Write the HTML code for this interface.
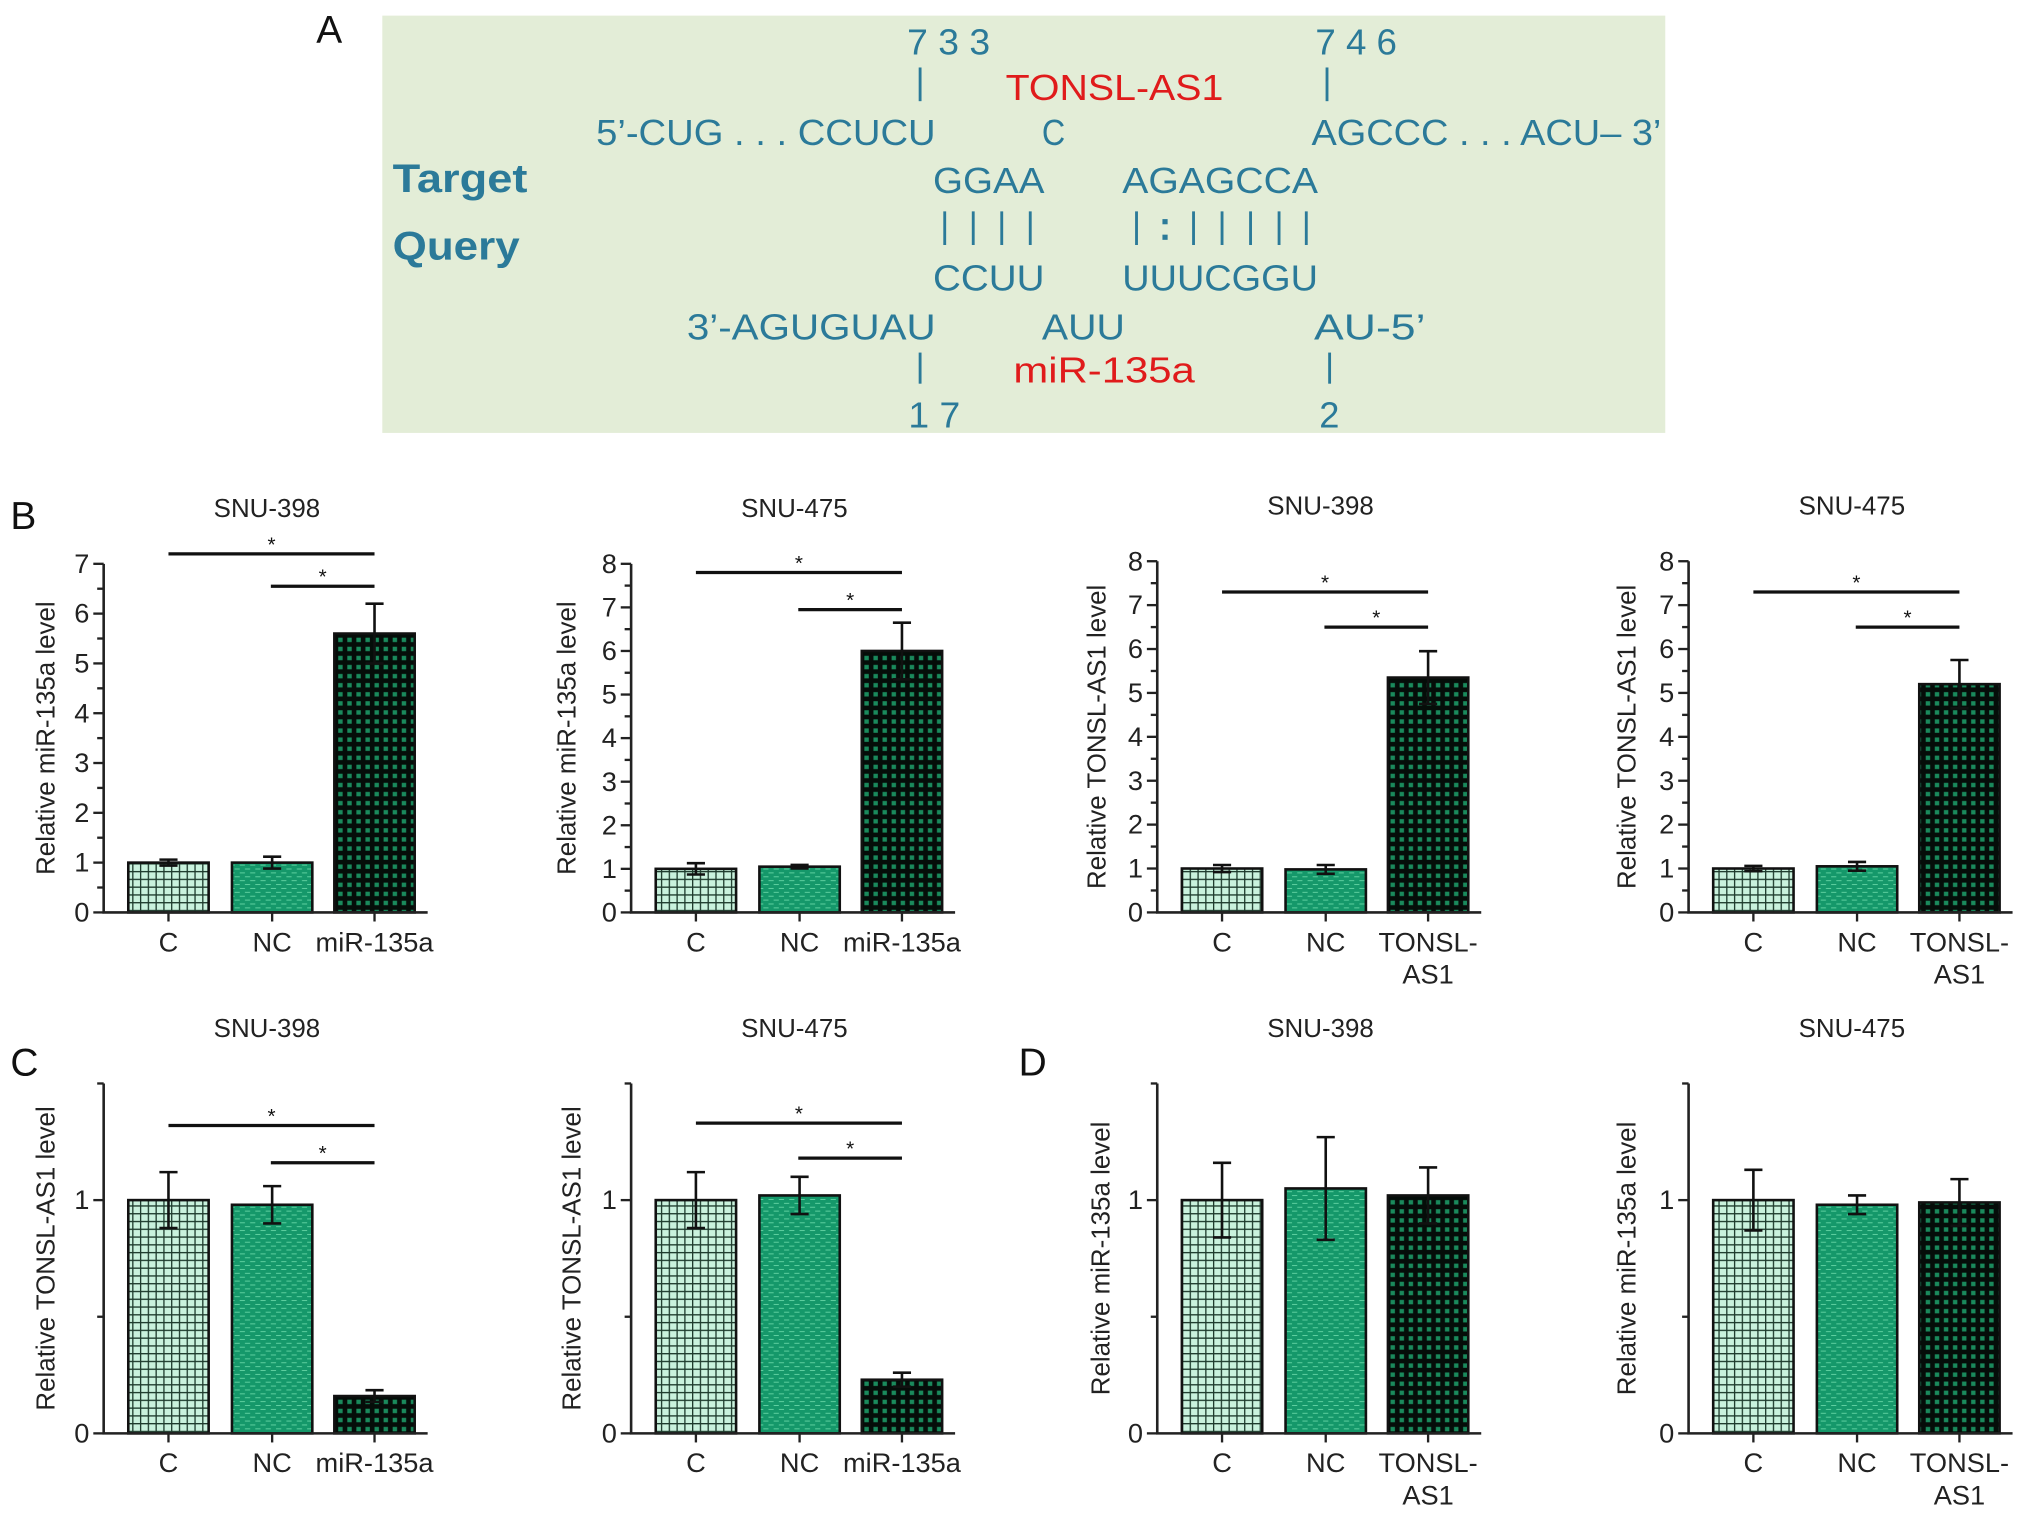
<!DOCTYPE html>
<html><head><meta charset="utf-8"><style>
html,body{margin:0;padding:0;background:#fff}
svg{display:block}
text{font-family:"Liberation Sans",Arial,sans-serif}
</style></head><body>
<svg id="fig" width="2032" height="1519" viewBox="0 0 1568 1172" xmlns="http://www.w3.org/2000/svg">
<defs>
<pattern id="pC" patternUnits="userSpaceOnUse" width="6" height="6"><rect width="6" height="6" fill="#c9f2dd"/><path d="M0 0.5H6M0.5 0V6" stroke="#1d3a2c" stroke-width="1"/></pattern>
<pattern id="pNC" patternUnits="userSpaceOnUse" width="8" height="6"><rect width="8" height="6" fill="#15986a"/><path d="M1 1.5H5M5 4.5H9M-3 4.5H1" stroke="#5fd0a0" stroke-width="0.8"/></pattern>
<pattern id="pT" patternUnits="userSpaceOnUse" width="7" height="7"><rect width="7" height="7" fill="#050d09"/><rect x="2" y="2" width="3.4" height="3.4" fill="#1a8a5c"/></pattern>
</defs>
<g id="panelA">
<rect x="295" y="12" width="990" height="322" fill="#e3edd7"/>
<g fill="#2b7a99" font-size="28">
<text x="700" y="42" textLength="64" lengthAdjust="spacingAndGlyphs">7 3 3</text>
<text x="1015" y="42" textLength="63" lengthAdjust="spacingAndGlyphs">7 4 6</text>
<text x="460" y="112" textLength="262" lengthAdjust="spacingAndGlyphs">5’-CUG . . . CCUCU</text>
<text x="804" y="112" textLength="18" lengthAdjust="spacingAndGlyphs">C</text>
<text x="1012" y="112" textLength="270" lengthAdjust="spacingAndGlyphs">AGCCC . . . ACU– 3’</text>
<text x="720" y="149" textLength="86" lengthAdjust="spacingAndGlyphs">GGAA</text>
<text x="866" y="149" textLength="151" lengthAdjust="spacingAndGlyphs">AGAGCCA</text>
<text x="720" y="224" textLength="86" lengthAdjust="spacingAndGlyphs">CCUU</text>
<text x="866" y="224" textLength="151" lengthAdjust="spacingAndGlyphs">UUUCGGU</text>
<text x="530" y="262" textLength="192" lengthAdjust="spacingAndGlyphs">3’-AGUGUAU</text>
<text x="804" y="262" textLength="64" lengthAdjust="spacingAndGlyphs">AUU</text>
<text x="1014" y="262" textLength="86" lengthAdjust="spacingAndGlyphs">AU-5’</text>
<text x="701" y="330" textLength="40" lengthAdjust="spacingAndGlyphs">1 7</text>
<text x="1018" y="330">2</text>
</g>
<g stroke="#2b7a99" stroke-width="2.2">
<line x1="710" y1="52" x2="710" y2="78"/><line x1="1024" y1="52" x2="1024" y2="78"/>
<line x1="710" y1="272" x2="710" y2="296"/><line x1="1026" y1="272" x2="1026" y2="296"/>
<path d="M729 163V189M751 163V189M773 163V189M795 163V189M877 163V189M921 163V189M943 163V189M965 163V189M987 163V189M1008 163V189"/>
</g>
<g fill="#2b7a99"><rect x="897" y="169" width="4" height="4"/><rect x="897" y="181" width="4" height="4"/></g>
<text x="303" y="148" fill="#2b7a99" font-size="31" font-weight="bold" textLength="104" lengthAdjust="spacingAndGlyphs">Target</text>
<text x="303" y="200" fill="#2b7a99" font-size="31" font-weight="bold" textLength="98" lengthAdjust="spacingAndGlyphs">Query</text>
<text x="860" y="77" fill="#e01b1b" font-size="28" text-anchor="middle" textLength="168" lengthAdjust="spacingAndGlyphs">TONSL-AS1</text>
<text x="852" y="295" fill="#e01b1b" font-size="28" text-anchor="middle" textLength="140" lengthAdjust="spacingAndGlyphs">miR-135a</text>
</g>
<g font-size="30" fill="#111">
<text x="244" y="33">A</text>
<text x="8" y="408">B</text>
<text x="8" y="830">C</text>
<text x="786" y="830">D</text>
</g>
<g id="charts"></g>
</svg>
<script>
// ----- chart data -----
const categoriesMiR = ["C", "NC", "miR-135a"];
const categoriesTONSL = ["C", "NC", "TONSL-AS1"];
const titles = ["SNU-398", "SNU-475", "SNU-398", "SNU-475", "SNU-398", "SNU-475", "SNU-398", "SNU-475"];
const yTitles = ["Relative miR-135a level", "Relative miR-135a level", "Relative TONSL-AS1 level", "Relative TONSL-AS1 level",
  "Relative TONSL-AS1 level", "Relative TONSL-AS1 level", "Relative miR-135a level", "Relative miR-135a level"];
const valuesB1 = [1.0, 1.0, 5.6];   const errB1 = [0.06, 0.12, 0.6];
const valuesB2 = [1.0, 1.05, 6.0];  const errB2 = [0.13, 0.04, 0.65];
const valuesB3 = [1.0, 0.98, 5.35]; const errB3 = [0.08, 0.1, 0.6];
const valuesB4 = [1.0, 1.05, 5.2];  const errB4 = [0.06, 0.1, 0.55];
const valuesC1 = [1.0, 0.98, 0.16]; const errC1 = [0.12, 0.08, 0.025];
const valuesC2 = [1.0, 1.02, 0.23]; const errC2 = [0.12, 0.08, 0.03];
const valuesD1 = [1.0, 1.05, 1.02]; const errD1 = [0.16, 0.22, 0.12];
const valuesD2 = [1.0, 0.98, 0.99]; const errD2 = [0.13, 0.04, 0.1];
const ticksB7 = [0, 1, 2, 3, 4, 5, 6, 7];
const ticksB8 = [0, 1, 2, 3, 4, 5, 6, 7, 8];
const ticksCD = [0, 1];
const sigB1 = [7.2, 6.55]; const sigB2 = [7.8, 6.95]; const sigB3 = [7.3, 6.5]; const sigB4 = [7.3, 6.5];
const sigC1 = [1.32, 1.16]; const sigC2 = [1.33, 1.18];

const NS = "http://www.w3.org/2000/svg";
const root = document.getElementById("charts");
function mk(tag, attrs, parent) {
  const e = document.createElementNS(NS, tag);
  for (const k in attrs) e.setAttribute(k, attrs[k]);
  parent.appendChild(e); return e;
}
const fills = ["url(#pC)", "url(#pNC)", "url(#pT)"];
const offs = [50, 130, 209];
const panels = [
  {ax: 80, y0: 704, yt: 435, max: 7, ticks: ticksB7, minor: 0.5, v: valuesB1, e: errB1, c: categoriesMiR, sig: sigB1, ttl: 0, ytx: 42},
  {ax: 487, y0: 704, yt: 435, max: 8, ticks: ticksB8, minor: 0.5, v: valuesB2, e: errB2, c: categoriesMiR, sig: sigB2, ttl: 1, ytx: 444},
  {ax: 893, y0: 704, yt: 433, max: 8, ticks: ticksB8, minor: 0.5, v: valuesB3, e: errB3, c: categoriesTONSL, sig: sigB3, ttl: 2, ytx: 853},
  {ax: 1303, y0: 704, yt: 433, max: 8, ticks: ticksB8, minor: 0.5, v: valuesB4, e: errB4, c: categoriesTONSL, sig: sigB4, ttl: 3, ytx: 1262},
  {ax: 80, y0: 1106, yt: 836, max: 1.5, ticks: ticksCD, minor: 0.5, v: valuesC1, e: errC1, c: categoriesMiR, sig: sigC1, ttl: 4, ytx: 42},
  {ax: 487, y0: 1106, yt: 836, max: 1.5, ticks: ticksCD, minor: 0.5, v: valuesC2, e: errC2, c: categoriesMiR, sig: sigC2, ttl: 5, ytx: 448},
  {ax: 893, y0: 1106, yt: 836, max: 1.5, ticks: ticksCD, minor: 0.5, v: valuesD1, e: errD1, c: categoriesTONSL, sig: null, ttl: 6, ytx: 856},
  {ax: 1303, y0: 1106, yt: 836, max: 1.5, ticks: ticksCD, minor: 0.5, v: valuesD2, e: errD2, c: categoriesTONSL, sig: null, ttl: 7, ytx: 1262}
];
panels.forEach((p, pi) => {
  const g = mk("g", {}, root);
  
  
  const y = v => p.y0 - (v / p.max) * (p.y0 - p.yt);
  const xc = i => p.ax + offs[i];
  const t = mk("text", {x: p.ax + 126, y: p.yt - 36, "text-anchor": "middle", "font-size": "20", fill: "#222"}, g);
  t.textContent = titles[p.ttl];
  
  
  const cy = (p.y0 + p.yt) / 2;
  const yt = mk("text", {x: p.ytx, y: cy, "text-anchor": "middle", "font-size": "20", fill: "#222", transform: `rotate(-90 ${p.ytx} ${cy})`}, g);
  yt.textContent = yTitles[pi];
  
  
  p.v.forEach((v, i) => {
    const r = mk("rect", {x: xc(i) - 31, y: y(v), width: 62, height: p.y0 - y(v), fill: fills[i], stroke: "#111", "stroke-width": "2"}, g);
    
    
    const eb = mk("path", {d: `M${xc(i)} ${y(v - p.e[i])}V${y(v + p.e[i])}M${xc(i) - 7} ${y(v + p.e[i])}H${xc(i) + 7}M${xc(i) - 7} ${y(v - p.e[i])}H${xc(i) + 7}`, stroke: "#111", "stroke-width": "2", fill: "none"}, g);
    
    
    const lbl = p.c[i] === "TONSL-AS1" ? ["TONSL-", "AS1"] : [p.c[i]];
    lbl.forEach((s, k) => {
      const tx = mk("text", {x: xc(i), y: p.y0 + 30 + k * 25, "text-anchor": "middle", "font-size": "21", fill: "#222"}, g);
      tx.textContent = s;
      
      
    });
    mk("line", {x1: xc(i), x2: xc(i), y1: p.y0, y2: p.y0 + 7, stroke: "#222", "stroke-width": "1.8"}, g);
  });
  const axis = mk("path", {d: `M${p.ax} ${p.yt}V${p.y0}H${p.ax + 250}`, stroke: "#222", "stroke-width": "2", fill: "none"}, g);
  
  
  for (let v = 0; v <= p.max + 1e-9; v += p.minor) {
    const major = p.ticks.includes(Math.round(v * 100) / 100);
    mk("line", {x1: p.ax - (major ? 8 : 5), x2: p.ax, y1: y(v), y2: y(v), stroke: "#222", "stroke-width": "1.8"}, g);
  }
  p.ticks.forEach(v => {
    const tl = mk("text", {x: p.ax - 11, y: y(v) + 7, "text-anchor": "end", "font-size": "21", fill: "#222"}, g);
    tl.textContent = v;
    
    
  });
  if (p.sig) {
    [[0, 2], [1, 2]].forEach((pair, k) => {
      const sy = y(p.sig[k]);
      const x1 = pair[0] === 0 ? xc(0) : xc(1) - 1, x2 = xc(2);
      const l = mk("line", {x1: x1, x2: x2, y1: sy, y2: sy, stroke: "#111", "stroke-width": "2.5"}, g);
      
      
      const st = mk("text", {x: (x1 + x2) / 2, y: sy - 2, "text-anchor": "middle", "font-size": "16", fill: "#111"}, g);
      st.textContent = "*";
      
      
    });
  }
});
</script>
</body></html>
